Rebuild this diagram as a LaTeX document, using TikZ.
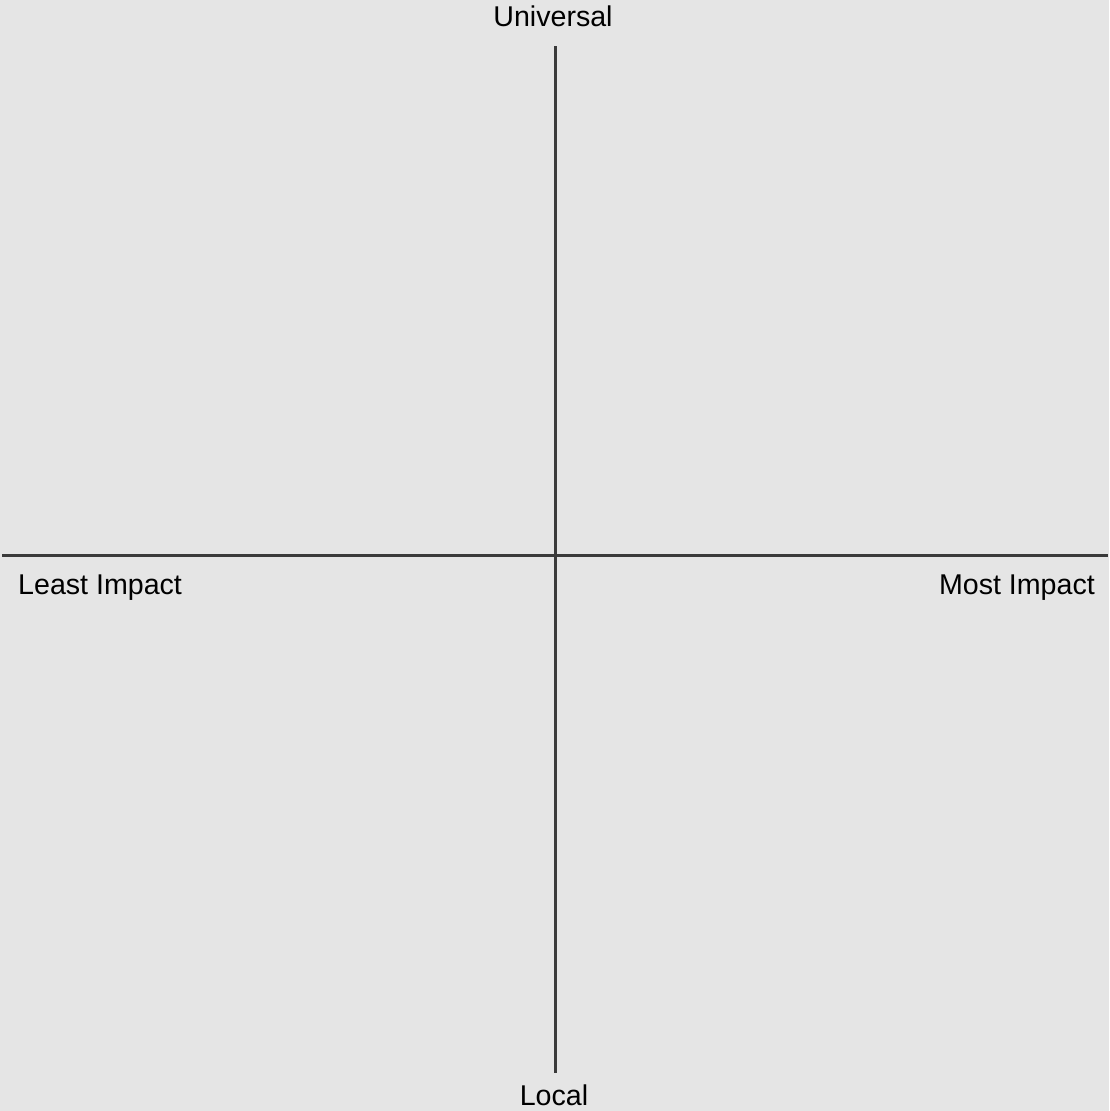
\documentclass[tikz,border=0pt]{standalone}
\usepackage{fontspec}
\setmainfont{Liberation Sans}
\definecolor{bgc}{HTML}{E5E5E5}
\definecolor{axc}{HTML}{3A3A3A}
\begin{document}
\begin{tikzpicture}[x=1pt,y=-1pt,
  axis/.style={draw=axc,line width=3pt},
  lbl/.style={inner sep=0pt,font=\fontsize{28.6}{34}\selectfont,text=black}]
\fill[bgc] (0,0) rectangle (1109,1111);
\useasboundingbox (0,0) rectangle (1109,1111);
\coordinate (top) at (555,46);
\coordinate (bot) at (555,1073);
\coordinate (lft) at (2,555);
\coordinate (rgt) at (1108,555);
\draw[axis] (top) -- (bot);
\draw[axis] (lft) -- (rgt);
\node[lbl,anchor=base] (univ) at (553,26) {Universal};
\node[lbl,anchor=base] (local) at (554,1105) {Local};
\node[lbl,anchor=base west] (least) at (18,594) {Least Impact};
\node[lbl,anchor=base east] (most) at (1095,594) {Most Impact};
\end{tikzpicture}
\end{document}
